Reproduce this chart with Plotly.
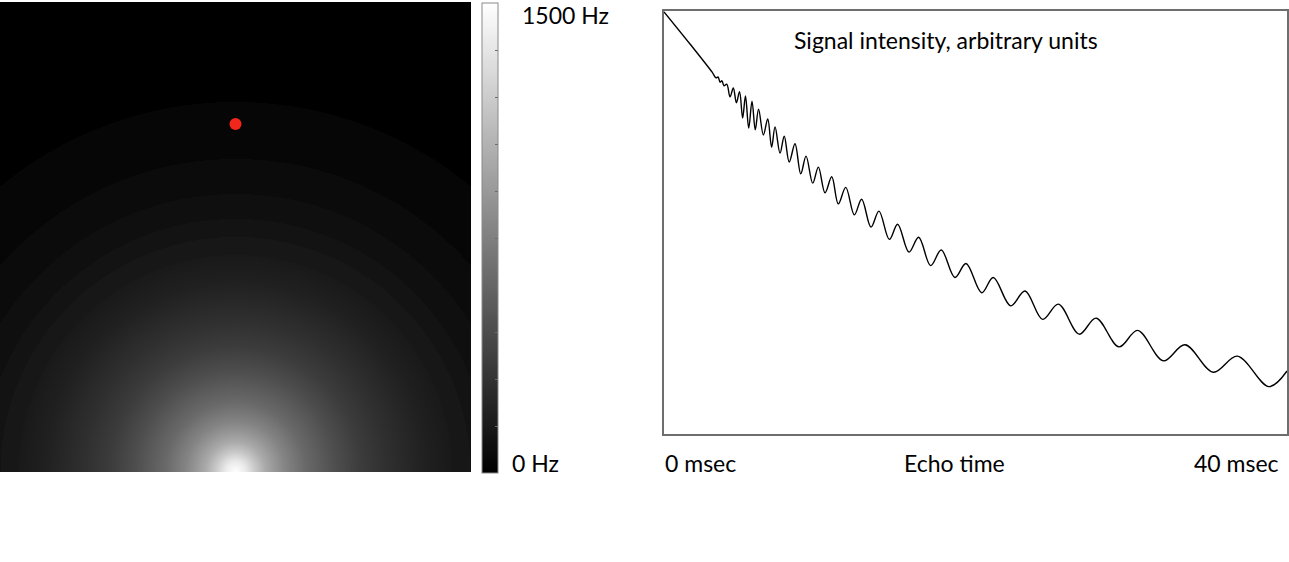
import numpy as np
import plotly.graph_objects as go

W, H = 1289, 562

# ---- Left panel: field map (radial profile) ----
profile_r = [0, 10, 20, 30, 40, 50, 70, 100, 125, 150, 190, 217]
profile_hz = [1500, 1382, 1176, 1000, 882, 776, 618, 459, 353, 282, 188, 147]
ring_edges = [217, 235, 253, 278, 313, 370]
ring_hz = [135, 112, 88, 65, 35, 0]
map_width, map_height = 471, 470
colorbar_ticks = [150, 300, 450, 600, 750, 900, 1050, 1200, 1350]

dot_x = [235.5]
dot_y = [348]

# ---- Right panel: signal vs echo time (extrema) ----
echo_time_ms = [0, 1.67, 3.08, 3.34, 3.47, 3.60, 3.72, 3.85, 4.03, 4.24, 4.45, 4.65,
                4.85, 5.05, 5.23, 5.44, 5.65, 5.86, 6.07, 6.38, 6.66, 6.91, 7.13,
                7.45, 7.72, 8.04, 8.41, 8.78, 9.12, 9.55, 9.91, 10.34, 10.77, 11.19,
                11.67, 12.22, 12.69, 13.29, 13.80, 14.47, 15.00, 15.73, 16.35, 17.12,
                17.80, 18.68, 19.39, 20.40, 21.14, 22.26, 23.18, 24.31, 25.32, 26.66,
                27.74, 29.21, 30.41, 32.06, 33.45, 35.27, 36.81, 38.84, 40.00]
signal = [0.998, 0.922, 0.856, 0.842, 0.844, 0.832, 0.835, 0.823, 0.827, 0.797, 0.818,
          0.783, 0.809, 0.747, 0.799, 0.723, 0.787, 0.719, 0.768, 0.707, 0.745, 0.678,
          0.726, 0.664, 0.704, 0.643, 0.686, 0.615, 0.657, 0.593, 0.631, 0.570, 0.608,
          0.544, 0.583, 0.518, 0.555, 0.489, 0.527, 0.460, 0.496, 0.430, 0.465, 0.398,
          0.435, 0.370, 0.403, 0.334, 0.370, 0.303, 0.338, 0.271, 0.307, 0.236, 0.274,
          0.206, 0.245, 0.173, 0.211, 0.146, 0.184, 0.112, 0.149]

# build the field grid from the profile
xs = np.arange(map_width) + 0.5
ys = np.arange(map_height) + 0.5
X, Y = np.meshgrid(xs, ys)
R = np.hypot(X - map_width / 2, Y)
inner = np.interp(R, profile_r, profile_hz)
idx = np.clip(np.searchsorted(ring_edges, R, side="right") - 1, 0, len(ring_hz) - 1)
outer = np.array(ring_hz)[idx]
Z = np.where(R < ring_edges[0], inner, outer).astype(np.float32)

FONT = "Lato"
FSIZE = 23

fig = go.Figure()
fig.add_trace(go.Heatmap(
    x=xs, y=ys, z=Z, zmin=0, zmax=1500,
    colorscale=[[0, "black"], [1, "white"]],
    xaxis="x", yaxis="y", hoverinfo="skip",
    colorbar=dict(
        x=482 / W, xanchor="left", xpad=0, ypad=0,
        y=(H - 3) / H, yanchor="top",
        thickness=16, thicknessmode="pixels",
        len=470, lenmode="pixels",
        outlinecolor="#8a8a8a", outlinewidth=1,
        tickvals=colorbar_ticks, ticks="inside", ticklen=3,
        tickcolor="#6a6a6a", tickwidth=1, showticklabels=False,
    ),
))
fig.add_trace(go.Scatter(
    x=dot_x, y=dot_y, mode="markers", xaxis="x", yaxis="y",
    marker=dict(color="#f2261b", size=12, line=dict(width=0)),
    hoverinfo="skip", showlegend=False,
))
fig.add_trace(go.Scatter(
    x=echo_time_ms, y=signal, mode="lines", xaxis="x2", yaxis="y2",
    line=dict(color="black", width=1.4, shape="spline", smoothing=1.0),
    hoverinfo="skip", showlegend=False,
))

fig.update_layout(
    width=W, height=H, margin=dict(l=0, r=0, t=0, b=0),
    paper_bgcolor="white", plot_bgcolor="white", showlegend=False,
    font=dict(family=FONT, color="black"),
    xaxis=dict(domain=[0, 471 / W], range=[0, map_width], visible=False, fixedrange=True),
    yaxis=dict(domain=[(H - 472) / H, (H - 2) / H], range=[0, map_height], visible=False,
               fixedrange=True, anchor="x"),
    xaxis2=dict(domain=[664 / W, 1287 / W], range=[0, 40], showline=True, mirror=True,
                linecolor="#6e6e6e", linewidth=2, showticklabels=False, ticks="",
                showgrid=False, zeroline=False, anchor="y2"),
    yaxis2=dict(domain=[(H - 434) / H, (H - 11) / H], range=[0, 1], showline=True,
                mirror=True, linecolor="#6e6e6e", linewidth=2, showticklabels=False,
                ticks="", showgrid=False, zeroline=False, anchor="x2"),
)

def label(text, x, y, anchor):
    fig.add_annotation(text=text, x=x / W, y=1 - y / H, xref="paper", yref="paper",
                       xanchor=anchor, yanchor="middle", showarrow=False,
                       font=dict(family=FONT, size=FSIZE, color="black"))

label("1500 Hz", 520, 15, "left")
label("0 Hz", 510, 463, "left")
label("Signal intensity, arbitrary units", 946, 40, "center")
label("0 msec", 663, 463, "left")
label("Echo time", 954, 463, "center")
label("40 msec", 1281, 463, "right")

fig.write_html(
    "out.html",
    config={"displayModeBar": False, "staticPlot": True},
    post_script="document.body.style.margin='0';document.body.style.overflow='hidden';",
)
